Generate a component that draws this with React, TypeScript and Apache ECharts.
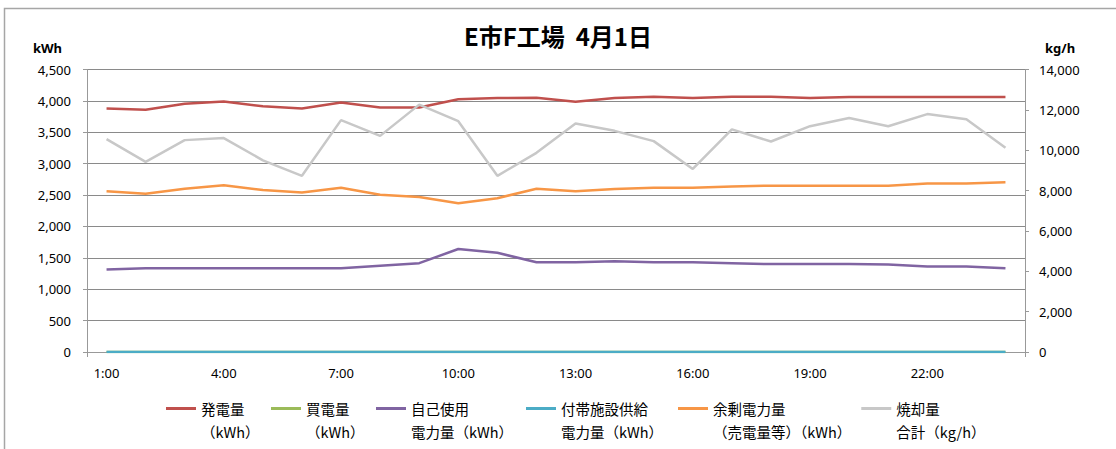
import React, { useEffect, useRef } from "react";
import * as echarts from "echarts";

const titleText = "E市F工場  4月1日";
const hours = [
  "1:00", "2:00", "3:00", "4:00", "5:00", "6:00", "7:00", "8:00", "9:00", "10:00", "11:00", "12:00",
  "13:00", "14:00", "15:00", "16:00", "17:00", "18:00", "19:00", "20:00", "21:00", "22:00", "23:00", "24:00",
];
const seriesNames = [
  "発電量\n（kWh）",
  "買電量\n（kWh）",
  "自己使用\n電力量（kWh）",
  "付帯施設供給\n電力量（kWh）",
  "余剰電力量\n（売電量等）（kWh）",
  "焼却量\n合計（kg/h）",
];
const generation = [3880, 3860, 3955, 3990, 3915, 3880, 3975, 3895, 3895, 4025, 4045, 4050, 3985, 4045, 4065, 4045, 4065, 4065, 4045, 4060, 4060, 4060, 4060, 4060];
const purchased = [0, 0, 0, 0, 0, 0, 0, 0, 0, 0, 0, 0, 0, 0, 0, 0, 0, 0, 0, 0, 0, 0, 0, 0];
const selfUse = [1315, 1335, 1335, 1335, 1335, 1335, 1335, 1375, 1415, 1640, 1580, 1430, 1430, 1445, 1430, 1430, 1415, 1400, 1400, 1400, 1395, 1360, 1360, 1335];
const facilitySupply = [0, 0, 0, 0, 0, 0, 0, 0, 0, 0, 0, 0, 0, 0, 0, 0, 0, 0, 0, 0, 0, 0, 0, 0];
const surplus = [2560, 2520, 2600, 2655, 2580, 2540, 2615, 2505, 2470, 2370, 2450, 2600, 2560, 2595, 2615, 2615, 2635, 2650, 2650, 2650, 2650, 2685, 2685, 2705];
const incineration = [10550, 9420, 10500, 10600, 9500, 8730, 11490, 10710, 12260, 11440, 8730, 9870, 11320, 10960, 10450, 9070, 11030, 10430, 11190, 11600, 11190, 11790, 11540, 10120];
const colors = ["#C0504D", "#9BBB59", "#8064A2", "#4BACC6", "#F79646", "#C8C8C8"];

const FONT = "'Noto Sans', 'Noto Sans CJK JP', sans-serif";
const CJK = "'Noto Sans CJK JP', sans-serif";
const legendTextWidths = [60, 60, 105, 107, 136, 80];

export default function App() {
  const ref = useRef<HTMLDivElement>(null);
  useEffect(() => {
    if (!ref.current) return;
    const chart = echarts.init(ref.current, null, { renderer: "svg" });
    const dataSets = [generation, purchased, selfUse, facilitySupply, surplus, incineration];
    const fmt = (v: number) => v.toLocaleString("en-US");
    chart.setOption({
      animation: false,
      backgroundColor: "#ffffff",
      textStyle: { fontFamily: FONT },
      title: {
        text: titleText,
        left: "center",
        top: 18,
        textStyle: { fontFamily: CJK, fontSize: 24, fontWeight: "bold", color: "#000" },
      },
      graphic: [
        {
          type: "rect",
          shape: { x: 4.5, y: 8.5, width: 1200, height: 600 },
          style: { fill: "none", stroke: "#a6a6a6", lineWidth: 1.5 },
          silent: true,
          z: -1,
        },
      ],
      grid: { left: 87, right: 91, top: 69.5, bottom: 97 },
      legend: {
        left: 161,
        top: 369,
        itemWidth: 30,
        itemHeight: 3,
        itemGap: 10,
        icon: "rect",
        formatter: (name: string) => "\n" + name,
        textStyle: { fontFamily: CJK, fontSize: 14.5, color: "#000", lineHeight: 23 },
        data: seriesNames.map((name, i) => ({
          name,
          textStyle: { width: legendTextWidths[i], fontFamily: CJK, fontSize: 14.5, color: "#000", lineHeight: 23 },
        })),
      },
      xAxis: {
        type: "category",
        data: hours,
        boundaryGap: true,
        axisLine: { show: true, lineStyle: { color: "#999", width: 1 } },
        axisTick: { show: true, interval: (i: number) => i === 0, length: 5, lineStyle: { color: "#999" } },
        axisLabel: { interval: 2, margin: 14, fontSize: 13, color: "#000", fontFamily: FONT },
        splitLine: { show: false },
      },
      yAxis: [
        {
          type: "value",
          min: 0,
          max: 4500,
          interval: 500,
          name: "kWh",
          nameLocation: "end",
          nameGap: 15,
          nameTextStyle: { fontWeight: "bold", fontSize: 13, color: "#000", align: "right", padding: [0, 25, 0, 0], fontFamily: FONT },
          axisLine: { show: true, lineStyle: { color: "#999" } },
          axisTick: { show: true, length: 4, lineStyle: { color: "#999" } },
          axisLabel: { margin: 16, fontSize: 13, color: "#000", formatter: fmt, fontFamily: FONT },
          splitLine: { show: true, lineStyle: { color: "#8a8a8a", width: 1 } },
        },
        {
          type: "value",
          min: 0,
          max: 14000,
          interval: 2000,
          name: "kg/h",
          nameLocation: "end",
          nameGap: 15,
          nameTextStyle: { fontWeight: "bold", fontSize: 13, color: "#000", align: "left", padding: [0, 0, 0, 20], fontFamily: FONT },
          axisLine: { show: true, lineStyle: { color: "#999" } },
          axisTick: { show: true, length: 4, lineStyle: { color: "#999" } },
          axisLabel: { margin: 14, fontSize: 13, color: "#000", formatter: fmt, fontFamily: FONT },
          splitLine: { show: false },
        },
      ],
      series: seriesNames.map((name, i) => ({
        name,
        type: "line",
        yAxisIndex: i === 5 ? 1 : 0,
        data: dataSets[i],
        symbol: "none",
        showSymbol: false,
        lineStyle: { color: colors[i], width: 2.5 },
        itemStyle: { color: colors[i] },
      })),
    });
    return () => chart.dispose();
  }, []);
  return (
    <div
      ref={ref}
      style={{ position: "fixed", left: 0, top: 0, width: 1116, height: 449 }}
    />
  );
}
